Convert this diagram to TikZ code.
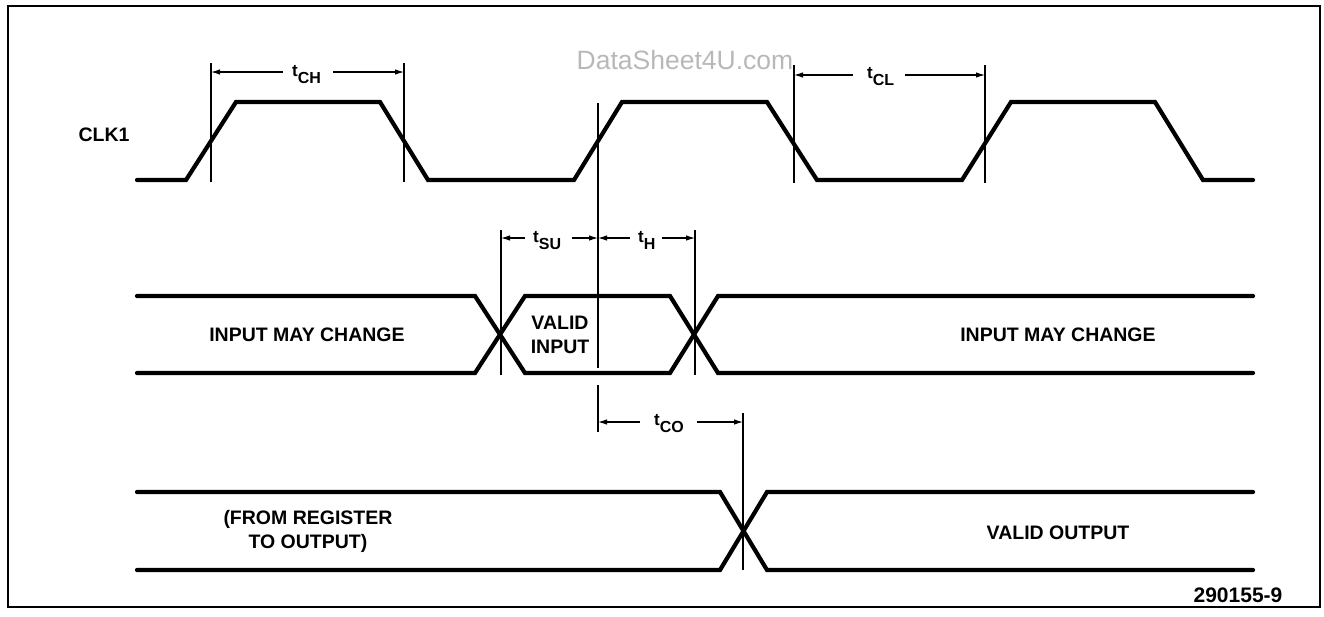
\documentclass[tikz,border=0pt]{standalone}
\usepackage{fontspec}
\setmainfont{Liberation Sans}
\usetikzlibrary{arrows.meta}
\newcommand{\tlab}[1]{{\fontsize{17}{17}\selectfont t}\raisebox{-7pt}{\fontsize{16}{16}\selectfont #1}}
\begin{document}
\begin{tikzpicture}[x=1pt,y=-1pt,
  sig/.style={line width=4.2pt, line cap=round, line join=miter},
  guide/.style={line width=1.1pt},
  dim/.style={line width=1.1pt, -{Latex[length=9pt,width=5.5pt]}},
  lbl/.style={font=\fontsize{19.5}{24}\selectfont\bfseries, inner sep=0pt, align=center},
  tl/.style={font=\bfseries, inner sep=0pt, anchor=base west}]
\useasboundingbox (0,0) rectangle (1324,616);
\draw[line width=1.5pt] (8,6) rectangle (1320,607);

% watermark
\node[font=\fontsize{26.5}{26.5}\selectfont, text=black!28, inner sep=0pt] (wm) at (685,60) {DataSheet4U.com};

% CLK1 waveform
\node[lbl] (clk) at (104,135) {CLK1};
\draw[sig] (137,180) -- (186,180) -- (236,102) -- (380,102) -- (428,180) -- (574,180) -- (622,102) -- (767,102) -- (817,180) -- (962,180) -- (1011,102) -- (1155,102) -- (1203,180) -- (1253,180);

% input waveform
\draw[sig] (137,296) -- (475,296) -- (525,373) -- (670,373) -- (718,296) -- (1253,296);
\draw[sig] (137,373) -- (475,373) -- (525,296) -- (670,296) -- (718,373) -- (1253,373);
\node[lbl] (imc1) at (307,335) {INPUT MAY CHANGE};
\node[lbl] (imc2) at (1058,335) {INPUT MAY CHANGE};
\node[lbl] (vin) at (560,335) {VALID\\INPUT};

% output waveform
\draw[sig] (137,492) -- (720,492) -- (767,570) -- (1253,570);
\draw[sig] (137,570) -- (720,570) -- (767,492) -- (1253,492);
\node[lbl] (frm) at (308,531) {(FROM REGISTER\\TO OUTPUT)};
\node[lbl] (vout) at (1058,533) {VALID OUTPUT};
\node[font=\fontsize{21}{21}\selectfont\bfseries, inner sep=0pt] (fig) at (1238,595) {290155-9};

% guide lines
\coordinate (g1a) at (211,63);  \coordinate (g1b) at (211,182);
\coordinate (g2a) at (404,63);  \coordinate (g2b) at (404,182);
\coordinate (g3a) at (794,65);  \coordinate (g3b) at (794,183);
\coordinate (g4a) at (985,65);  \coordinate (g4b) at (985,183);
\coordinate (g5a) at (598,103); \coordinate (g5b) at (598,368);
\coordinate (g6a) at (598,385); \coordinate (g6b) at (598,432);
\coordinate (g7a) at (501,230); \coordinate (g7b) at (501,375);
\coordinate (g8a) at (695,230); \coordinate (g8b) at (695,375);
\coordinate (g9a) at (743,413); \coordinate (g9b) at (743,570);
\foreach \g in {1,...,9} {\draw[guide] (g\g a) -- (g\g b);}

% t_CH
\node[tl] (tch) at (292,76) {\tlab{CH}};
\coordinate (ch1) at (283,72); \coordinate (ch2) at (333,72);
\draw[dim] (ch1) -- (g1a |- ch1);
\draw[dim] (ch2) -- (g2a |- ch2);
% t_CL
\node[tl] (tcl) at (867,78) {\tlab{CL}};
\coordinate (cl1) at (853,75); \coordinate (cl2) at (905,75);
\draw[dim] (cl1) -- (g3a |- cl1);
\draw[dim] (cl2) -- (g4a |- cl2);
% t_SU
\node[tl] (tsu) at (533,242) {\tlab{SU}};
\coordinate (su1) at (525,238); \coordinate (su2) at (572,238);
\draw[dim] (su1) -- (g7a |- su1);
\draw[dim] (su2) -- (g5a |- su2);
% t_H
\node[tl] (th) at (638,242) {\tlab{H}};
\coordinate (h1) at (630,238); \coordinate (h2) at (662,238);
\draw[dim] (h1) -- (g5a |- h1);
\draw[dim] (h2) -- (g8a |- h2);
% t_CO
\node[tl] (tco) at (654,425) {\tlab{CO}};
\coordinate (co1) at (640,422); \coordinate (co2) at (697,422);
\draw[dim] (co1) -- (g6a |- co1);
\draw[dim] (co2) -- (g9a |- co2);
\end{tikzpicture}
\end{document}
